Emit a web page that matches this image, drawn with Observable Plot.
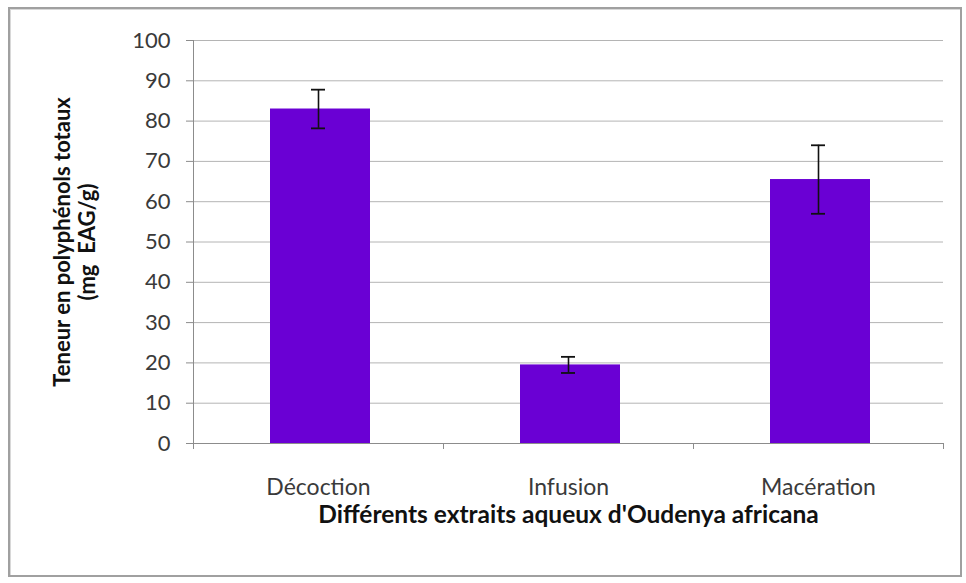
<!DOCTYPE html>
<html>
<head>
<meta charset="utf-8">
<script src="https://cdn.jsdelivr.net/npm/d3@7"></script>
<script src="https://cdn.jsdelivr.net/npm/@observablehq/plot@0.6"></script>
<style>
  html, body { margin: 0; padding: 0; background: #fff; }
  #wrap { position: relative; width: 966px; height: 583px; overflow: hidden; }
  #frame { position: absolute; left: 8px; top: 7px; width: 950px; height: 566px;
           border: 2px solid #a0a0a0; box-shadow: inset 1px 1px 0 #d8d8d8; }
  #chart { position: absolute; left: 0; top: 0; }
  svg { font-family: Lato, "Open Sans", sans-serif; }
</style>
</head>
<body>
<div id="wrap"><div id="frame"></div><div id="chart"></div></div>
<script>
const categories = ["Décoction", "Infusion", "Macération"];
const values = [83, 19.5, 65.5];
const errors = [4.8, 2.0, 8.5];
const yTicks = [0, 10, 20, 30, 40, 50, 60, 70, 80, 90, 100];
const yLabel1 = "Teneur en polyphénols totaux";
const yLabel2 = "(mg  EAG/g)";
const xLabel = "Différents extraits aqueux d'Oudenya africana";

const data = categories.map((c, i) => ({c, i, v: values[i], e: errors[i]}));
const fillColor = "#6a00d4";

const chart = Plot.plot({
  width: 966,
  height: 583,
  marginLeft: 193,
  marginRight: 23,
  marginTop: 40,
  marginBottom: 140,
  x: {type: "linear", domain: [0, 3], axis: null},
  y: {domain: [0, 100], axis: null},
  style: {fontFamily: "Lato, 'Open Sans', sans-serif", background: "transparent"},
  marks: [
    Plot.ruleY(yTicks.filter(t => t > 0), {stroke: "#b4b4b4", strokeWidth: 1}),
    Plot.axisY({ticks: yTicks, anchor: "left", tickSize: 7, tickPadding: 16,
                stroke: "#8c8c8c", fill: "#3a3a3a", fontSize: 22, label: null}),
    Plot.ruleX([0], {stroke: "#8c8c8c"}),
    Plot.ruleY([0], {stroke: "#8c8c8c"}),
    Plot.axisX({ticks: [0, 1, 2, 3], tickFormat: () => "", tickSize: 6,
                stroke: "#8c8c8c", label: null}),
    Plot.rectY(data, {x1: d => d.i, x2: d => d.i + 1, y: "v",
                      insetLeft: 77, insetRight: 73, fill: fillColor}),
    Plot.ruleX(data, {x: d => d.i + 0.5, y1: d => d.v - d.e, y2: d => d.v + d.e,
                      stroke: "#111", strokeWidth: 1.6}),
    Plot.ruleY(data, {y: d => d.v + d.e, x1: d => d.i + 0.472, x2: d => d.i + 0.528,
                      stroke: "#111", strokeWidth: 1.8}),
    Plot.ruleY(data, {y: d => d.v - d.e, x1: d => d.i + 0.472, x2: d => d.i + 0.528,
                      stroke: "#111", strokeWidth: 1.8}),
    Plot.text(data, {x: d => d.i + 0.5, y: 0, text: "c", dy: 44, lineAnchor: "middle",
                     fontSize: 23, fill: "#3a3a3a"}),
    Plot.text([xLabel], {text: d => d, frameAnchor: "bottom", dy: 72, lineAnchor: "middle",
                         textAnchor: "middle", fontSize: 24.5, fontWeight: "bold", fill: "#111"}),
    Plot.text([yLabel1], {text: d => d, frameAnchor: "left", rotate: -90, dx: -131,
                          textAnchor: "middle", lineAnchor: "middle", fontSize: 22,
                          fontWeight: "bold", fill: "#111"}),
    Plot.text([yLabel2], {text: d => d, frameAnchor: "left", rotate: -90, dx: -106,
                          textAnchor: "middle", lineAnchor: "middle", fontSize: 22,
                          fontWeight: "bold", fill: "#111"})
  ]
});
document.getElementById("chart").appendChild(chart);
</script>
</body>
</html>
